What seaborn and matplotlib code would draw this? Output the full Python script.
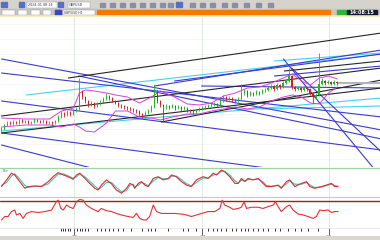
import matplotlib
matplotlib.use("Agg")
import matplotlib.pyplot as plt
from matplotlib.patches import Rectangle
import numpy as np
import pandas as pd
import seaborn as sns

# ---------------- data ----------------
open0 = 36
closes = [38, 42, 44, 43, 45, 44, 46, 45, 46, 44,
          45, 47, 46, 45, 46, 44, 45, 44, 46, 50,
          54, 52, 55, 53, 56, 58, 75, 70, 66, 62,
          64, 61, 63, 65, 68, 71, 69, 66, 64, 62,
          61, 60, 59, 58, 57, 56, 53, 51, 54, 56,
          60, 76, 66, 62, 60, 61, 60, 61, 59, 60,
          58, 59, 57, 56, 55, 57, 58, 59, 60, 61,
          62, 63, 62, 66, 70, 68, 69, 67, 66, 68,
          74, 76, 72, 74, 73, 75, 74, 76, 77, 79,
          81, 78, 82, 80, 84, 86, 91, 80, 78, 79,
          77, 79, 78, 74, 70, 72, 83, 86, 84, 85,
          83, 85, 84]
highs = [40, 43, 46, 46, 47, 46, 48, 48, 47, 47,
         46, 49, 48, 47, 48, 47, 46, 46, 47, 52,
         56, 55, 57, 56, 58, 60, 89, 77, 71, 67,
         66, 65, 65, 67, 70, 74, 72, 70, 67, 65,
         63, 62, 61, 60, 59, 58, 57, 54, 56, 58,
         62, 82, 77, 67, 63, 63, 62, 63, 62, 62,
         61, 61, 60, 58, 57, 58, 60, 61, 62, 63,
         64, 65, 64, 68, 72, 71, 71, 70, 68, 70,
         83, 78, 77, 76, 75, 77, 76, 78, 79, 81,
         83, 82, 84, 83, 86, 88, 99, 92, 81, 81,
         80, 81, 80, 79, 75, 74, 114, 89, 87, 87,
         86, 87, 86]
lows = [35, 37, 41, 42, 42, 43, 43, 44, 44, 43,
        43, 44, 45, 44, 44, 43, 43, 42, 43, 45,
        49, 50, 51, 51, 52, 55, 57, 68, 64, 60,
        61, 59, 60, 62, 64, 67, 67, 65, 63, 60,
        59, 58, 57, 56, 55, 54, 51, 49, 50, 53,
        55, 59, 64, 60, 45, 58, 58, 59, 57, 58,
        56, 57, 55, 54, 53, 54, 56, 57, 58, 59,
        60, 61, 60, 61, 65, 66, 67, 65, 64, 65,
        67, 72, 70, 71, 71, 72, 72, 73, 75, 76,
        78, 76, 77, 78, 79, 83, 85, 78, 76, 77,
        75, 76, 76, 72, 64, 68, 71, 82, 82, 83,
        82, 82, 82]

band_bars = [0, 8, 16, 20, 24, 26, 28, 31, 35, 38, 42, 46, 50, 53, 57, 62, 66,
             70, 74, 78, 82, 86, 90, 94, 97, 100, 103, 106, 109, 112]
band_upper = [49, 48, 48, 56, 59, 74, 77, 76, 74, 72, 70, 64, 70, 76, 71, 63, 62,
              64, 71, 74, 79, 80, 84, 89, 93, 86, 82, 89, 91, 88]
band_lower = [40, 42, 42, 40, 43, 40, 36, 35, 44, 56, 56, 50, 49, 47, 50, 53, 53,
              56, 58, 60, 58, 60, 66, 70, 72, 70, 64, 63, 74, 80]

# trend lines: (bar0, price0, bar1, price1)
black_lines = [(22.3, 89, 126.7, 134), (0, 51, 126.7, 99), (0, 34, 126.7, 79),
               (53.3, 45, 126.7, 87), (94.3, 96, 126.7, 106)]
blue_lines = [(0, 108, 126.7, 37), (0, 94, 126.7, 50), (0, 66, 126.7, 17),
              (0, 34, 88.3, -1), (0, 22, 30, -1), (51, 81, 126.7, 117),
              (57.7, 86, 126.7, 113), (91, 91, 126.7, 101), (25.7, 91, 126.7, 28),
              (94, 108, 124, -1), (96.7, 99, 126.7, 15), (66.7, 81, 126.7, 79)]
cyan_lines = [(8.3, 72, 126.7, 113), (0, 36, 126.7, 69), (91, 106, 126.7, 114),
              (86.7, 58, 126.7, 61)]
price_line = 84

osc_bars = [0, 1.7, 3.3, 4.4, 6.1, 7.8, 8.9, 11.1, 13.3, 15.6,
            17.2, 18.9, 20.6, 22.2, 23.9, 25, 26.1, 27.8, 29.4, 31.1,
            32.2, 33.3, 35, 36.7, 38.3, 40, 41.7, 42.8, 43.9, 44.4,
            45.6, 46.7, 47.8, 48.9, 50.6, 52.2, 53.9, 55.6, 56.7, 58.3,
            60, 61.7, 63.3, 65, 67.2, 68.9, 70.6, 71.7, 73.3, 74.4,
            76.1, 77.8, 78.9, 80, 81.1, 82.2, 83.9, 85.6, 87.2, 88.3,
            90, 92.2, 93.3, 95, 96.1, 97.8, 100, 101.7, 102.8, 104.4,
            106.7, 108.3, 110, 111.1, 112.2]
osc_main = [36, 59, 82, 76, 53, 30, 36, 38, 36, 53,
            70, 84, 76, 70, 61, 76, 82, 64, 47, 30,
            24, 41, 59, 45, 24, 13, 30, 47, 41, 30,
            47, 53, 41, 36, 64, 70, 59, 64, 76, 70,
            53, 41, 36, 59, 70, 64, 82, 76, 93, 87,
            70, 47, 47, 64, 53, 64, 59, 64, 47, 36,
            36, 41, 30, 53, 59, 36, 47, 53, 36, 30,
            36, 41, 47, 36, 36]
osc_signal = [40, 50, 72, 80, 62, 40, 33, 37, 37, 45,
              62, 78, 80, 73, 65, 70, 79, 70, 54, 38,
              28, 33, 50, 50, 33, 18, 22, 40, 44, 35,
              40, 50, 46, 38, 55, 67, 63, 62, 72, 72,
              60, 46, 38, 50, 65, 66, 76, 78, 88, 89,
              76, 56, 48, 58, 56, 60, 60, 62, 52, 40,
              37, 39, 34, 45, 56, 44, 44, 50, 42, 33,
              34, 39, 44, 40, 37]

ind_bars = [0, 1.1, 2.2, 3.3, 4.4, 5, 6.1, 7.2, 8.3, 10,
            12.2, 14.4, 16.7, 18.3, 18.9, 19.8, 20.6, 21.7, 22.8, 23.9,
            25, 26.1, 27.2, 28.3, 30, 32.2, 33.3, 35, 36.7, 38.3,
            40, 42.2, 43.9, 45, 46.1, 47.2, 48.3, 49.4, 50.6, 51.7,
            53.3, 55.6, 57.8, 60, 61.7, 63.3, 65, 66.7, 68.9, 71.1,
            72.8, 73.6, 74.4, 76.1, 77.2, 78.9, 80, 80.9, 81.7, 83.3,
            85.6, 87.2, 88.9, 90.6, 91.3, 92.2, 93.3, 95, 96.1, 97.2,
            98.9, 100.6, 102.2, 103.9, 105, 106.1, 107.2, 108.9, 110, 111.1,
            112.2]
ind_vals = [26, 37, 37, 53, 58, 42, 47, 31, 47, 53,
            50, 53, 58, 85, 90, 63, 58, 74, 67, 63,
            85, 92, 90, 74, 63, 53, 63, 56, 53, 47,
            42, 37, 34, 47, 31, 26, 26, 37, 74, 53,
            47, 47, 47, 45, 42, 37, 42, 47, 53, 53,
            63, 90, 74, 67, 60, 63, 67, 85, 63, 67,
            67, 63, 69, 74, 85, 69, 53, 69, 74, 58,
            45, 42, 37, 31, 37, 58, 56, 58, 50, 53,
            53]
ind_level = 87

day_ticks = [24.3, 67, 109.3]
day_labels = ["1/6", "1/7", "1/8"]
hour_ticks = [19.8, 20.6, 21.3, 22.2, 23, 25.3, 26.1, 26.9, 27.8, 28.7,
              31.7, 33.1, 34.4, 35.9, 37.2, 38.7, 40.6, 43.1, 46.7, 48.7,
              50, 51.3, 55.6, 60.6, 62.2, 65, 68.9, 70.6, 72, 73.3,
              75, 76.7, 78.3, 80, 81.1, 82.2, 83.9, 85.6, 87.2, 88.9,
              91.1, 92.8, 95.6, 97.8, 100, 102.2, 105.6]

# ---------------- styling ----------------
sns.set_theme(style="white")
plt.rcParams['font.family'] = ['DejaVu Sans']

W, H = 380, 240
fig = plt.figure(figsize=(3.8, 2.4), dpi=100)
fig.patch.set_facecolor("white")

def pax(top, bottom, left=0, right=380):
    return fig.add_axes([left / W, 1 - bottom / H, (right - left) / W, (bottom - top) / H])

XMAX = 126.2
BLUE = "#3a3ad2"
BLACK = "#262626"
CYAN = "#48d0ea"
MAG = "#dc3cdc"
GRID = "#dfeadf"

# ---- toolbar ----
tb = pax(0, 16)
tb.set_xlim(0, 380); tb.set_ylim(16, 0); tb.axis("off")
tb.add_patch(Rectangle((0, 0), 380, 16, color="#d6d3cc"))
tb.add_patch(Rectangle((0, 9.3), 380, 6.7, color="#c9c7c2"))
tb.add_patch(Rectangle((97, 10), 233, 6, color="#f27a00"))
for x0, w in [(1, 6), (19, 5), (58, 5), (176, 6)]:
    tb.add_patch(Rectangle((x0, 2), w, 5, color="#5a6ec8"))
for x0 in [100, 110, 120, 130, 140, 150, 160, 168, 190, 200, 210, 222, 232, 244, 256, 268]:
    tb.add_patch(Rectangle((x0, 2.5), 5, 4.5, color="#8a8fa8"))
tb.add_patch(Rectangle((27, 2), 30, 5.5, color="white", ec="#999", lw=0.3))
tb.text(28, 5, "2024.01.08 14", fontsize=2.4, va="center", color="#333")
tb.add_patch(Rectangle((68, 2), 22, 5.5, color="white", ec="#999", lw=0.3))
tb.text(69, 5, "GBPUSD", fontsize=2.4, va="center", color="#333")
for x0, w in [(2, 13), (18, 9), (31, 9), (43, 8), (55, 6), (63, 32)]:
    tb.add_patch(Rectangle((x0, 10.3), w, 5, color="white", ec="#888", lw=0.3))
tb.add_patch(Rectangle((55, 10.3), 6, 5, color="#3848c0"))
tb.text(64, 13, "GBP/USD H1", fontsize=2.2, va="center", color="#333")
tb.add_patch(Rectangle((337, 10), 9, 5.5, color="#2fb43a"))
tb.add_patch(Rectangle((347, 9.5), 30, 6.5, color="#101a33"))
tb.text(362, 12.8, "14:08:15", fontsize=3.6, color="white", ha="center", va="center",
        fontweight="bold")

# ---- main price panel ----
ax = pax(16, 167)
ax.set_facecolor("white")
bars = np.arange(len(closes))
opens = [open0] + closes[:-1]
df = pd.DataFrame({"bar": bars, "open": opens, "close": closes, "high": highs, "low": lows})
df["color"] = np.where(df["close"] >= df["open"], "#1fb81f", "#d41e1e")

for yv in range(8, 150, 15):
    ax.axhline(yv, color="#f1f4f1", lw=0.5, zorder=0)
for xv in day_ticks:
    ax.axvline(xv, color=GRID, lw=0.7, zorder=0)

for (x0, y0, x1, y1) in cyan_lines:
    ax.plot([x0, x1], [y0, y1], color=CYAN, lw=0.8, zorder=2)
for (x0, y0, x1, y1) in blue_lines:
    ax.plot([x0, x1], [y0, y1], color=BLUE, lw=0.8, zorder=2)
for (x0, y0, x1, y1) in black_lines:
    ax.plot([x0, x1], [y0, y1], color=BLACK, lw=0.8, zorder=2)

bd = pd.DataFrame({"bar": band_bars, "upper": band_upper, "lower": band_lower})
sns.lineplot(data=bd, x="bar", y="upper", ax=ax, color=MAG, lw=0.7, zorder=3)
sns.lineplot(data=bd, x="bar", y="lower", ax=ax, color=MAG, lw=0.7, zorder=3)

ax.vlines(df["bar"], df["low"], df["high"], colors=df["color"], lw=0.6, zorder=4)
body = (df["close"] - df["open"]).replace(0, 0.4)
ax.bar(df["bar"], body, bottom=df["open"], width=0.62, color=df["color"], lw=0, zorder=5)
ax.hlines(price_line, bars[-1], XMAX, color="#b4b4b4", lw=1.4, zorder=3)

ax.set_xlim(-0.5, XMAX); ax.set_ylim(0, 151)
ax.set_xticks([]); ax.set_yticks([])
ax.set_xlabel(""); ax.set_ylabel("")
for s in ax.spines.values():
    s.set_visible(False)
ax.spines["top"].set_visible(True); ax.spines["top"].set_color("#f3e9b4"); ax.spines["top"].set_linewidth(1.2)

# ---- oscillator panel ----
a1 = pax(168, 197)
od = pd.DataFrame({"bar": osc_bars, "main": osc_main, "signal": osc_signal})
for xv in day_ticks:
    a1.axvline(xv, color=GRID, lw=0.7, zorder=0)
sns.lineplot(data=od, x="bar", y="signal", ax=a1, color="#3cc6c0", lw=0.8)
sns.lineplot(data=od, x="bar", y="main", ax=a1, color="#e02a2a", lw=0.8)
a1.set_xlim(-0.5, XMAX); a1.set_ylim(0, 100)
a1.set_xticks([]); a1.set_yticks([]); a1.set_xlabel(""); a1.set_ylabel("")
for s in a1.spines.values():
    s.set_visible(False)
a1.spines["top"].set_visible(True); a1.spines["top"].set_color("#9fd39f"); a1.spines["top"].set_linewidth(0.9)
a1.text(0.3, 96, "Sto", fontsize=2.4, color="#555", va="top")

# ---- indicator panel ----
a2 = pax(197, 228)
idf = pd.DataFrame({"bar": ind_bars, "val": ind_vals})
for xv in day_ticks:
    a2.axvline(xv, color=GRID, lw=0.7, zorder=0)
a2.axhline(ind_level, color="#9a2222", lw=1.0)
sns.lineplot(data=idf, x="bar", y="val", ax=a2, color="#e83030", lw=0.8)
a2.set_xlim(-0.5, XMAX); a2.set_ylim(0, 100)
a2.set_yticks([]); a2.set_xlabel(""); a2.set_ylabel("")
a2.set_xticks(day_ticks)
a2.set_xticklabels(day_labels, fontsize=3, color="#666")
a2.set_xticks(hour_ticks, minor=True)
a2.tick_params(axis="x", which="major", length=5, width=0.6, color="#444", pad=0.3, bottom=True)
a2.tick_params(axis="x", which="minor", length=2, width=0.7, color="#333", bottom=True)
for s in a2.spines.values():
    s.set_visible(False)
a2.spines["top"].set_visible(True); a2.spines["top"].set_color("#c8c8c8"); a2.spines["top"].set_linewidth(0.8)
a2.spines["bottom"].set_visible(True); a2.spines["bottom"].set_color("#dddddd"); a2.spines["bottom"].set_linewidth(0.5)

# ---- bottom status strip ----
sb = pax(236, 240)
sb.set_xlim(0, 380); sb.set_ylim(0, 1); sb.axis("off")
sb.add_patch(Rectangle((0, 0), 380, 1, color="#d9d7d2"))

fig.savefig("out.png", dpi=100)
